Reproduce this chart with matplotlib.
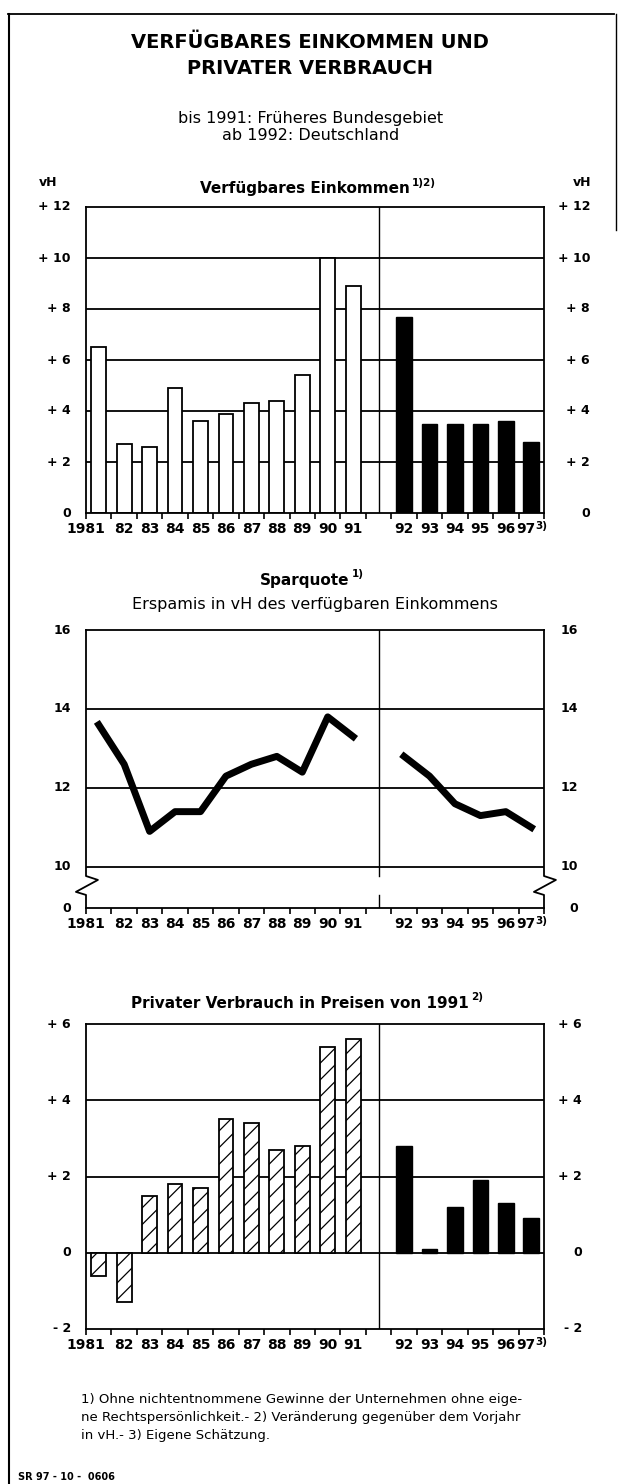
import numpy as np
import matplotlib
matplotlib.use('Agg')
import matplotlib.pyplot as plt
from matplotlib.lines import Line2D
from matplotlib.transforms import blended_transform_factory, offset_copy

plt.rcParams['font.family'] = 'DejaVu Sans'
plt.rcParams['hatch.linewidth'] = 0.9

# Daten
jahre_west = ['1981', '82', '83', '84', '85', '86', '87', '88', '89', '90', '91']
jahre_ost = ['92', '93', '94', '95', '96', '97']

einkommen_west = [6.5, 2.7, 2.6, 4.9, 3.6, 3.9, 4.3, 4.4, 5.4, 10.0, 8.9]
einkommen_ost = [7.7, 3.5, 3.5, 3.5, 3.6, 2.8]

sparquote_west = [13.6, 12.6, 10.9, 11.4, 11.4, 12.3, 12.6, 12.8, 12.4, 13.8, 13.3]
sparquote_ost = [12.8, 12.3, 11.6, 11.3, 11.4, 11.0]

verbrauch_west = [-0.6, -1.3, 1.5, 1.8, 1.7, 3.5, 3.4, 2.7, 2.8, 5.4, 5.6]
verbrauch_ost = [2.8, 0.1, 1.2, 1.9, 1.3, 0.9]

W, H = 621, 1484
fig = plt.figure(figsize=(W / 100, H / 100), dpi=100)

x_west = np.arange(len(jahre_west))
x_ost = np.arange(len(jahre_ost)) + len(jahre_west) + 1
trenn = len(jahre_west)
x_max = x_ost[-1] + 0.5


def achse(top, bottom, left=86, right=544):
    return fig.add_axes([left / W, 1 - bottom / H, (right - left) / W, (bottom - top) / H])


def ftext(x, y, s, **kw):
    return fig.text(x / W, 1 - y / H, s, **kw)


def basis(ax, ymin, ymax, grid, trennlinie=True):
    ax.set_xlim(-0.5, x_max)
    ax.set_ylim(ymin, ymax)
    ax.set_yticks([])
    ax.set_xticks(np.arange(-0.5, x_max + 0.1, 1))
    ax.set_xticklabels([])
    ax.tick_params(axis='x', direction='out', length=4, width=1.2, color='black')
    for s in ax.spines.values():
        s.set_linewidth(1.3)
    for g in grid:
        ax.axhline(g, color='black', lw=1.3, zorder=1)
    if trennlinie:
        ax.axvline(trenn, color='black', lw=1.0, zorder=1)
    # Jahreszahlen
    tr = offset_copy(blended_transform_factory(ax.transData, ax.transAxes), fig=fig, y=-16, units='dots')
    for i, j in enumerate(jahre_west):
        if i == 0:
            ax.text(0.25, 0, j, transform=tr, ha='right', va='center', fontsize=10, fontweight='bold')
        else:
            ax.text(x_west[i], 0, j, transform=tr, ha='center', va='center', fontsize=10, fontweight='bold')
    for i, j in enumerate(jahre_ost):
        if i == len(jahre_ost) - 1:
            ax.text(x_ost[i] + 0.15, 0, j, transform=tr, ha='right', va='center', fontsize=10, fontweight='bold')
            tr2 = offset_copy(blended_transform_factory(ax.transData, ax.transAxes), fig=fig, y=-13, units='dots')
            ax.text(x_ost[i] + 0.15, 0, '3)', transform=tr2, ha='left', va='center', fontsize=7.5, fontweight='bold')
        else:
            ax.text(x_ost[i], 0, j, transform=tr, ha='center', va='center', fontsize=10, fontweight='bold')


def y_labels(ax, werte, texte, x_links=71, x_rechts=590):
    tr = blended_transform_factory(fig.transFigure, ax.transData)
    for w, t in zip(werte, texte):
        ax.text(x_links / W, w, t, transform=tr, ha='right', va='center', fontsize=9, fontweight='bold')
        ax.text(x_rechts / W, w, t, transform=tr, ha='right', va='center', fontsize=9, fontweight='bold')


# Rahmen
fig.add_artist(Line2D([8 / W, 614 / W], [1 - 14 / H, 1 - 14 / H], color='black', lw=1.3))
fig.add_artist(Line2D([9 / W, 9 / W], [1 - 14 / H, 0], color='black', lw=1.5))
fig.add_artist(Line2D([616 / W, 616 / W], [1 - 14 / H, 1 - 230 / H], color='black', lw=1.0))

# Titel
ftext(310, 43, 'VERFÜGBARES EINKOMMEN UND', ha='center', va='center', fontsize=14, fontweight='bold')
ftext(310, 68, 'PRIVATER VERBRAUCH', ha='center', va='center', fontsize=14, fontweight='bold')
ftext(311, 118, 'bis 1991: Früheres Bundesgebiet', ha='center', va='center', fontsize=11.5)
ftext(311, 135, 'ab 1992: Deutschland', ha='center', va='center', fontsize=11.5)

# Panel 1: Verfügbares Einkommen
ax1 = achse(207, 513)
basis(ax1, 0, 12, [2, 4, 6, 8, 10])
ax1.bar(x_west, einkommen_west, width=0.58, color='white', edgecolor='black', lw=1.3, zorder=2)
ax1.bar(x_ost, einkommen_ost, width=0.62, color='black', edgecolor='black', lw=1.0, zorder=2)
y_labels(ax1, [0, 2, 4, 6, 8, 10, 12], ['0', '+ 2', '+ 4', '+ 6', '+ 8', '+ 10', '+ 12'])
ftext(48, 183, 'vH', ha='center', va='center', fontsize=9, fontweight='bold')
ftext(582, 183, 'vH', ha='center', va='center', fontsize=9, fontweight='bold')
t1 = ftext(305, 189, 'Verfügbares Einkommen', ha='center', va='center', fontsize=11, fontweight='bold')
ax1.annotate('1)2)', xy=(1, 0.6), xycoords=t1, xytext=(1.5, 0), textcoords='offset points',
             ha='left', va='bottom', fontsize=7.5, fontweight='bold', annotation_clip=False)

# Panel 2: Sparquote
y_null = 8.96
ax2 = achse(630, 908)
basis(ax2, y_null, 16, [10, 12, 14], trennlinie=False)
ax2.spines['left'].set_visible(False)
ax2.spines['right'].set_visible(False)
zz = [(0, 1), (0, 0.115), (0.026, 0.101), (-0.022, 0.058), (0, 0.047), (0, 0)]
for dx in (0, 1):
    ax2.plot([p[0] + dx for p in zz], [p[1] for p in zz], transform=ax2.transAxes,
             color='black', lw=1.3, clip_on=False, zorder=3)
trv = blended_transform_factory(ax2.transData, ax2.transAxes)
ax2.plot([trenn, trenn], [1, 0.115], transform=trv, color='black', lw=1.0, zorder=1)
ax2.plot([trenn, trenn], [0.047, 0], transform=trv, color='black', lw=1.0, zorder=1)
ax2.plot(x_west, sparquote_west, color='black', lw=5, zorder=3)
ax2.plot(x_ost, sparquote_ost, color='black', lw=5, zorder=3)
y_labels(ax2, [y_null, 10, 12, 14, 16], ['0', '10', '12', '14', '16'], x_rechts=578)
t2 = ftext(305, 580, 'Sparquote', ha='center', va='center', fontsize=11, fontweight='bold')
ax2.annotate('1)', xy=(1, 0.6), xycoords=t2, xytext=(1.5, 0), textcoords='offset points',
             ha='left', va='bottom', fontsize=7.5, fontweight='bold', annotation_clip=False)
ftext(315, 605, 'Erspamis in vH des verfügbaren Einkommens', ha='center', va='center', fontsize=11.5)

# Panel 3: Privater Verbrauch
ax3 = achse(1024, 1329)
basis(ax3, -2, 6, [0, 2, 4])
ax3.bar(x_west, verbrauch_west, width=0.58, color='white', edgecolor='black', lw=1.3,
        hatch='//', zorder=2)
ax3.bar(x_ost, verbrauch_ost, width=0.62, color='black', edgecolor='black', lw=1.0, zorder=2)
y_labels(ax3, [-2, 0, 2, 4, 6], ['- 2', '0', '+ 2', '+ 4', '+ 6'], x_rechts=582)
t3 = ftext(300, 1004, 'Privater Verbrauch in Preisen von 1991', ha='center', va='center',
           fontsize=11, fontweight='bold')
ax3.annotate('2)', xy=(1, 0.6), xycoords=t3, xytext=(1.5, 0), textcoords='offset points',
             ha='left', va='bottom', fontsize=7.5, fontweight='bold', annotation_clip=False)

# Fußnoten
ftext(81, 1400, '1) Ohne nichtentnommene Gewinne der Unternehmen ohne eige-', ha='left', va='center', fontsize=9.5)
ftext(81, 1418, 'ne Rechtspersönlichkeit.- 2) Veränderung gegenüber dem Vorjahr', ha='left', va='center', fontsize=9.5)
ftext(81, 1436, 'in vH.- 3) Eigene Schätzung.', ha='left', va='center', fontsize=9.5)
ftext(18, 1477, 'SR 97 - 10 -  0606', ha='left', va='center', fontsize=7, fontweight='bold')

fig.savefig('out.png', dpi=100)
